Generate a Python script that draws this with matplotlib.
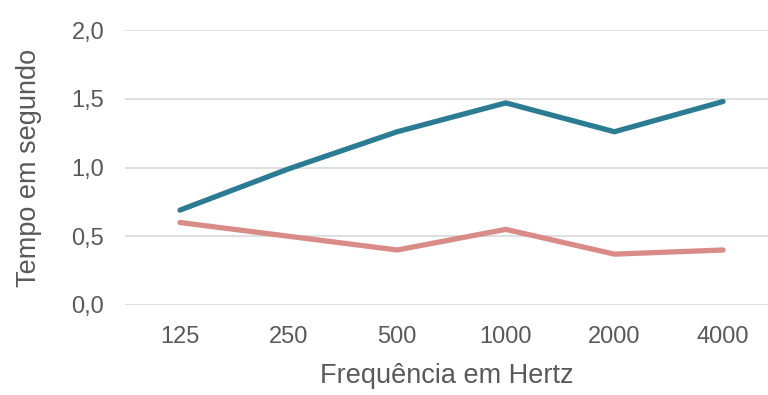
import matplotlib
matplotlib.use("Agg")
import matplotlib.pyplot as plt

categories = ["125", "250", "500", "1000", "2000", "4000"]
serie_azul = [0.69, 0.99, 1.26, 1.47, 1.26, 1.48]
serie_vermelha = [0.60, 0.50, 0.40, 0.55, 0.37, 0.40]
y_ticks = [0.0, 0.5, 1.0, 1.5, 2.0]
y_tick_labels = ["0,0", "0,5", "1,0", "1,5", "2,0"]

plt.rcParams['font.family'] = ['Liberation Sans', 'DejaVu Sans']
text_color = "#595959"

fig = plt.figure(figsize=(7.68, 3.95), dpi=100)
ax = fig.add_axes([125/768, (395-305)/395, 1 - 125/768, (305-30)/395])

x = list(range(len(categories)))
ax.plot(x, serie_azul, color="#2B7B93", lw=3.8, solid_capstyle="round", zorder=3)
ax.plot(x, serie_vermelha, color="#D98B88", lw=3.8, solid_capstyle="round", zorder=3)

ax.set_xlim(-0.506, 5.414)
ax.set_ylim(0, 2.0)
ax.set_yticks(y_ticks)
ax.set_yticklabels(y_tick_labels)
ax.set_xticks(x)
ax.set_xticklabels(categories)
ax.grid(axis="y", color="#D9D9D9", lw=1.2)
ax.set_axisbelow(True)
for s in ax.spines.values():
    s.set_visible(False)
ax.tick_params(axis="both", length=0, labelsize=17, colors=text_color)
ax.tick_params(axis="y", pad=15)
ax.tick_params(axis="x", pad=15)
for lab in ax.get_yticklabels() + ax.get_xticklabels():
    lab.set_clip_on(False)

ax.set_xlabel("Frequência em Hertz", fontsize=19.5, color=text_color, labelpad=11)
ax.set_ylabel("Tempo em segundo", fontsize=19.5, color=text_color, labelpad=21)

fig.savefig("out.png", dpi=100)
